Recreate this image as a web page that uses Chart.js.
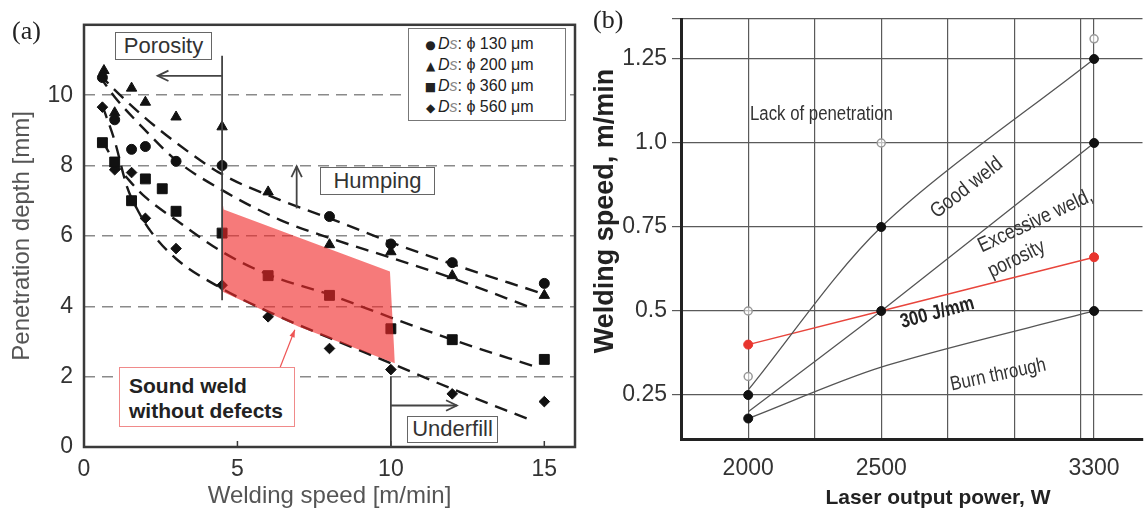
<!DOCTYPE html>
<html>
<head>
<meta charset="utf-8">
<script src="https://cdn.jsdelivr.net/npm/chart.js@4.4.1/dist/chart.umd.min.js"></script>
<style>
  html, body { margin: 0; padding: 0; background: #fff; overflow: hidden; }
  #wrap { position: relative; width: 1148px; height: 523px; font-family: 'Liberation Sans', Arial, sans-serif; }
  canvas { position: absolute; top: 0; }
  #chartA { left: 0; width: 590px; height: 523px; }
  #chartB { left: 590px; width: 558px; height: 523px; }
  .lbl { position: absolute; white-space: nowrap; }
  .serif { font-family: 'Liberation Serif', 'Times New Roman', serif; color: #222; }
  .box { position: absolute; border: 1.5px solid #666; background: #fff; color: #333; font-size: 22px;
         text-align: center; box-sizing: border-box; white-space: nowrap; }
  .narrow { color: #333; }
  #legA { position: absolute; left: 408px; top: 28px; width: 158px; height: 93px; border: 1.5px solid #777;
          box-sizing: border-box; background: #fff; font-size: 16px; color: #222; padding: 4px 0 0 14px; }
  #legA div { line-height: 21px; height: 21px; }
  #legA .mk { display: inline-block; width: 15px; text-align: center; font-size: 12px; font-family: 'DejaVu Sans', sans-serif; }
  #legA .s { color: #888; }
</style>
</head>
<body>
<div id="wrap">
  <canvas id="chartA" width="590" height="523"></canvas>
  <canvas id="chartB" width="558" height="523"></canvas>

  <div class="lbl serif" style="left:12px;top:16px;font-size:26px">(a)</div>
  <div class="lbl serif" style="left:593px;top:5px;font-size:26px">(b)</div>

  <div class="box" style="left:115px;top:32px;width:97px;height:28px;line-height:25px">Porosity</div>
  <div class="box" style="left:320px;top:167px;width:115px;height:28px;line-height:25px">Humping</div>
  <div class="box" style="left:407px;top:416px;width:91px;height:27px;line-height:24px">Underfill</div>
  <div class="box" style="left:119px;top:367px;width:176px;height:60px;border-color:#f08a8a;text-align:left;
       padding:5px 0 0 9px;font-weight:bold;font-size:21px;line-height:25px;color:#222">Sound weld<br>without defects</div>

  <div id="legA">
    <div><span class="mk">●</span><i>D</i><i class="s">s</i>: ϕ 130 μm</div>
    <div><span class="mk">▲</span><i>D</i><i class="s">s</i>: ϕ 200 μm</div>
    <div><span class="mk">■</span><i>D</i><i class="s">s</i>: ϕ 360 μm</div>
    <div><span class="mk">◆</span><i>D</i><i class="s">s</i>: ϕ 560 μm</div>
  </div>

  <div class="lbl" style="left:604px;top:211px;font-size:27px;font-weight:bold;color:#222;transform:translate(-50%,-50%) rotate(-90deg)">Welding speed, m/min</div>
  <div class="lbl" style="left:938px;top:497px;font-size:21px;font-weight:bold;color:#222;transform:translate(-50%,-50%)">Laser output power, W</div>

  <div class="lbl narrow" style="left:750px;top:102px;font-size:20px;transform-origin:0 50%;transform:scaleX(0.84)">Lack of penetration</div>
  <div class="lbl narrow" style="left:966px;top:187px;font-size:21px;transform:translate(-50%,-50%) rotate(-38deg) scaleX(0.85)">Good weld</div>
  <div class="lbl narrow" style="left:1035px;top:220px;font-size:21px;transform:translate(-50%,-50%) rotate(-25deg) scaleX(0.83)">Excessive weld,</div>
  <div class="lbl narrow" style="left:1016px;top:258px;font-size:21px;transform:translate(-50%,-50%) rotate(-26deg) scaleX(0.83)">porosity</div>
  <div class="lbl narrow" style="left:937px;top:312px;font-size:20px;font-weight:bold;color:#222;transform:translate(-50%,-50%) rotate(-15deg) scaleX(0.83)">300 J/mm</div>
  <div class="lbl narrow" style="left:998px;top:374px;font-size:20px;transform:translate(-50%,-50%) rotate(-12deg) scaleX(0.84)">Burn through</div>
</div>

<script>
// ---------- (a) penetration depth vs welding speed ----------
const xTicksA = [0, 5, 10, 15];
const yTicksA = [0, 2, 4, 6, 8, 10];

const speed130 = [0.6, 1.0, 1.55, 2.0, 3.0, 4.5, 8.0, 10.0, 12.0, 15.0];
const depth130 = [10.5, 9.3, 8.46, 8.54, 8.12, 8.0, 6.55, 5.77, 5.24, 4.65];
const speed200 = [0.65, 1.0, 1.55, 2.0, 3.0, 4.5, 6.0, 8.0, 10.0, 12.0, 15.0];
const depth200 = [10.7, 9.5, 10.2, 9.8, 9.38, 9.1, 7.25, 5.75, 5.55, 4.87, 4.31];
const speed360 = [0.6, 1.0, 1.55, 2.0, 2.55, 3.0, 4.5, 6.0, 8.0, 10.0, 12.0, 15.0];
const depth360 = [8.65, 8.1, 7.0, 7.62, 7.34, 6.7, 6.08, 4.87, 4.31, 3.36, 3.05, 2.49];
const speed560 = [0.6, 1.0, 1.55, 2.0, 3.0, 4.5, 6.0, 8.0, 10.0, 12.0, 15.0];
const depth560 = [9.66, 7.88, 7.8, 6.5, 5.64, 4.6, 3.7, 2.8, 2.2, 1.51, 1.29];

// dashed fit curves
const fit130Speed = [0.5, 1, 2, 3, 4.5, 6.4, 8, 10, 12, 14.8];
const fit130Depth = [10.6, 10.15, 9.35, 8.65, 7.75, 7.02, 6.5, 5.82, 5.2, 4.4];
const fit200Speed = [0.5, 1, 2, 3, 4.5, 6.4, 8, 10, 12, 14.6];
const fit200Depth = [10.55, 9.95, 9.0, 8.15, 7.3, 6.45, 5.94, 5.38, 4.8, 3.95];
const fit360Speed = [0.6, 1, 1.5, 2, 3, 4.5, 6, 8, 10, 12, 14.75];
const fit360Depth = [8.7, 8.1, 7.55, 7.1, 6.45, 5.55, 4.9, 4.33, 3.68, 3.05, 2.27];
const fit560Speed = [0.6, 1, 1.4, 1.8, 2.2, 3, 4.5, 6, 8, 10, 12, 14.6];
const fit560Depth = [9.7, 8.7, 7.4, 6.65, 6.1, 5.35, 4.5, 3.85, 3.1, 2.38, 1.65, 0.75];

// sound-weld window (red area)
const soundTopSpeed = [4.5, 4.55, 9.97, 10.13];
const soundTopDepth = [7.05, 6.75, 4.99, 2.38];
const soundBottomSpeed = [4.5, 7.0, 10.13];
const soundBottomDepth = [4.42, 3.42, 2.38];

// ---------- (b) welding speed vs laser power ----------
const powerTicksB = [2000, 2250, 2500, 2750, 3000, 3250, 3300];
const powerLabelsB = [2000, 2500, 3300];
const speedTicksB = [0.25, 0.5, 0.75, 1.0, 1.25];
const speedLabelsB = ['0.25', '0.5', '0.75', '1.0', '1.25'];

const powerB = [2000, 2500, 3300];
const goodWeldLimit = [0.265, 0.75, 1.25];
const excessiveLimit = [0.2, 0.5, 1.0];
const burnLimit = [0.18, 0.333, 0.5];
const line300 = [0.4, 0.5, 0.66];

const blackPower = [2000, 2000, 2500, 2500, 3300, 3300, 3300];
const blackSpeed = [0.25, 0.18, 0.75, 0.5, 1.25, 1.0, 0.5];
const openPower = [2000, 2000, 2500, 3300];
const openSpeed = [0.5, 0.305, 1.0, 1.31];
const redPower = [2000, 3300];
const redSpeed = [0.4, 0.66];

const pts = (xs, ys) => xs.map((x, i) => ({ x: x, y: ys[i] }));

Chart.defaults.font.family = "'Liberation Sans', Arial, sans-serif";
Chart.defaults.animation = false;

function arrow(ctx, x1, y1, x2, y2, head) {
  ctx.beginPath();
  ctx.moveTo(x1, y1);
  ctx.lineTo(x2, y2);
  ctx.stroke();
  if (!head) return;
  const ang = Math.atan2(y2 - y1, x2 - x1);
  ctx.beginPath();
  ctx.moveTo(x2 - head * Math.cos(ang - 0.45), y2 - head * Math.sin(ang - 0.45));
  ctx.lineTo(x2, y2);
  ctx.lineTo(x2 - head * Math.cos(ang + 0.45), y2 - head * Math.sin(ang + 0.45));
  ctx.stroke();
}

const decorA = {
  id: 'decorA',
  beforeDatasetsDraw(chart) {
    const { ctx, chartArea: a, scales: { x } } = chart;
    ctx.save();
    ctx.strokeStyle = '#3a3a3a';
    ctx.lineWidth = 2.5;
    ctx.strokeRect(a.left, a.top, a.right - a.left, a.bottom - a.top);
    ctx.lineWidth = 1.5;
    xTicksA.slice(1).forEach(v => {
      const px = x.getPixelForValue(v);
      ctx.beginPath();
      ctx.moveTo(px, a.bottom);
      ctx.lineTo(px, a.bottom - 6);
      ctx.stroke();
    });
    ctx.restore();
  },
  afterDatasetsDraw(chart) {
    const { ctx, scales: { x, y } } = chart;
    const X = v => x.getPixelForValue(v), Y = v => y.getPixelForValue(v);
    ctx.save();
    ctx.strokeStyle = '#444';
    ctx.lineWidth = 1.8;
    arrow(ctx, X(4.5), Y(11.12), X(4.5), Y(4.17), 0);
    arrow(ctx, X(4.5), Y(10.55), X(2.4), Y(10.55), 12);
    arrow(ctx, X(6.93), Y(6.78), X(6.93), Y(7.98), 12);
    arrow(ctx, X(10.0), Y(2.0), X(10.0), Y(0), 0);
    arrow(ctx, X(10.0), Y(1.18), X(12.15), Y(1.18), 12);
    ctx.strokeStyle = '#ee5555';
    ctx.lineWidth = 1.2;
    arrow(ctx, X(6.38), Y(2.24), X(6.87), Y(3.33), 0);
    ctx.fillStyle = '#ee5555';
    const ang = Math.atan2(Y(3.33) - Y(2.24), X(6.87) - X(6.38));
    ctx.beginPath();
    ctx.moveTo(X(6.87), Y(3.33));
    ctx.lineTo(X(6.87) - 8 * Math.cos(ang - 0.35), Y(3.33) - 8 * Math.sin(ang - 0.35));
    ctx.lineTo(X(6.87) - 8 * Math.cos(ang + 0.35), Y(3.33) - 8 * Math.sin(ang + 0.35));
    ctx.closePath();
    ctx.fill();
    ctx.restore();
  }
};

const marker = (label, xs, ys, style, r) => ({
  label: label,
  data: pts(xs, ys),
  pointStyle: style,
  pointRadius: r,
  pointBackgroundColor: '#111',
  pointBorderColor: '#111',
  pointBorderWidth: 1,
  showLine: false,
  order: 1
});
const fitCurve = (xs, ys) => ({
  data: pts(xs, ys),
  showLine: true,
  borderColor: '#1a1a1a',
  borderWidth: 2.4,
  borderDash: [13, 8],
  pointRadius: 0,
  tension: 0.4,
  cubicInterpolationMode: 'monotone',
  order: 2
});

new Chart(document.getElementById('chartA'), {
  type: 'scatter',
  data: {
    datasets: [
      { data: pts(soundTopSpeed, soundTopDepth), showLine: true, borderWidth: 0, pointRadius: 0, fill: false, order: 0 },
      { data: pts(soundBottomSpeed, soundBottomDepth), showLine: true, borderWidth: 0, pointRadius: 0,
        fill: '-1', backgroundColor: 'rgba(240, 40, 40, 0.62)', order: 0 },
      marker('Ds: 130 μm', speed130, depth130, 'circle', 5),
      marker('Ds: 200 μm', speed200, depth200, 'triangle', 6),
      marker('Ds: 360 μm', speed360, depth360, 'rect', 7),
      marker('Ds: 560 μm', speed560, depth560, 'rectRot', 5.3),
      fitCurve(fit130Speed, fit130Depth),
      fitCurve(fit200Speed, fit200Depth),
      fitCurve(fit360Speed, fit360Depth),
      fitCurve(fit560Speed, fit560Depth)
    ]
  },
  options: {
    responsive: false,
    layout: { padding: { left: 0, right: 15, top: 19, bottom: 0 } },
    plugins: { legend: { display: false }, tooltip: { enabled: false } },
    scales: {
      x: {
        type: 'linear', min: 0, max: 16,
        afterBuildTicks: s => { s.ticks = xTicksA.map(v => ({ value: v })); },
        afterFit: s => { s.height = 76; },
        grid: { display: false, drawTicks: false },
        border: { display: false },
        ticks: { color: '#333', font: { size: 23 }, padding: 9, callback: v => String(v) },
        title: { display: true, text: 'Welding speed [m/min]', color: '#555', font: { size: 24 }, padding: { top: 0, bottom: 12 } }
      },
      y: {
        type: 'linear', min: 0, max: 12,
        afterBuildTicks: s => { s.ticks = yTicksA.map(v => ({ value: v })); },
        afterFit: s => { s.width = 84; },
        grid: { color: '#8a8a8a', lineWidth: 1.5, drawTicks: false },
        border: { display: false, dash: [11, 7] },
        ticks: { color: '#333', font: { size: 23 }, padding: 11, callback: v => String(v) },
        title: { display: true, text: 'Penetration depth [mm]', color: '#555', font: { size: 24 }, padding: { top: 8, bottom: 0 } }
      }
    }
  },
  plugins: [decorA]
});

const limitLine = (ys, color, width, tension) => ({
  data: pts(powerB, ys),
  showLine: true,
  borderColor: color,
  borderWidth: width,
  pointRadius: 0,
  tension: tension,
  order: 2
});

new Chart(document.getElementById('chartB'), {
  type: 'scatter',
  data: {
    datasets: [
      { data: pts(blackPower, blackSpeed), pointRadius: 4.5, pointBackgroundColor: '#111', pointBorderColor: '#111', order: 0 },
      { data: pts(openPower, openSpeed), pointRadius: 4, pointBackgroundColor: 'rgba(255,255,255,0.6)', pointBorderColor: '#999', pointBorderWidth: 1.5, order: 0 },
      { data: pts(redPower, redSpeed), pointRadius: 4.5, pointBackgroundColor: '#e8352e', pointBorderColor: '#e8352e', order: 0 },
      limitLine(goodWeldLimit, '#555', 1.3, 0.3),
      limitLine(excessiveLimit, '#555', 1.3, 0.2),
      limitLine(burnLimit, '#555', 1.3, 0.3),
      limitLine(line300, '#e8453c', 1.4, 0)
    ]
  },
  options: {
    responsive: false,
    layout: { padding: { left: 0, right: 0, top: 19, bottom: 0 } },
    plugins: { legend: { display: false }, tooltip: { enabled: false } },
    scales: {
      x: {
        type: 'linear', min: 1747.4, max: 3482,
        afterBuildTicks: s => { s.ticks = powerTicksB.map(v => ({ value: v })); },
        afterFit: s => { s.height = 84; },
        grid: { color: '#5a5a5a', lineWidth: 1.2, drawTicks: false },
        border: { display: true, color: '#222', width: 3 },
        ticks: {
          color: '#333', padding: 16,
          font: { size: 23 },
          callback: v => (powerLabelsB.includes(v) ? String(v) : '')
        }
      },
      y: {
        type: 'linear', min: 0.119, max: 1.369,
        afterBuildTicks: s => { s.ticks = speedTicksB.concat([1.369]).map(v => ({ value: v })); },
        afterFit: s => { s.width = 91; },
        grid: { color: '#5a5a5a', lineWidth: 1.2, drawTicks: true, tickLength: 9 },
        border: { display: true, color: '#222', width: 3 },
        ticks: {
          color: '#333', padding: 5,
          font: { size: 23 },
          callback: v => { const i = speedTicksB.indexOf(v); return i >= 0 ? speedLabelsB[i] : ''; }
        }
      }
    }
  }
});
</script>
</body>
</html>
